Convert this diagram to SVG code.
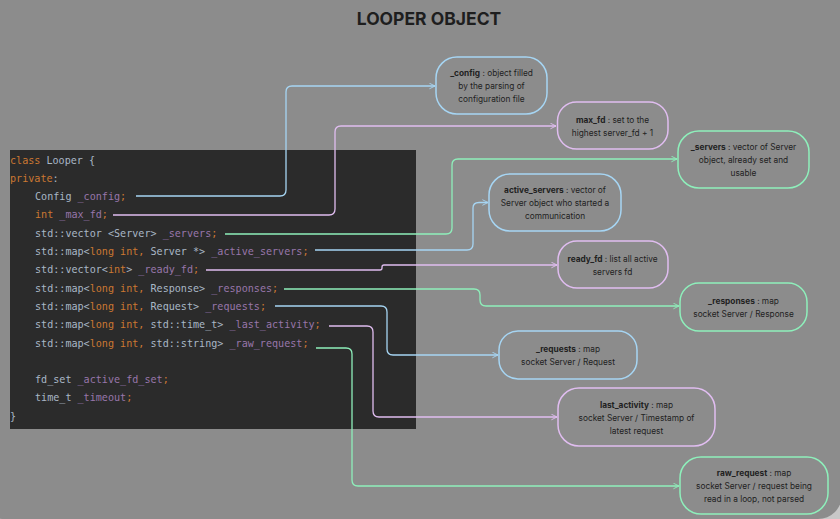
<svg xmlns="http://www.w3.org/2000/svg" width="840" height="519" viewBox="0 0 840 519">
<style>
.code{font-family:"DejaVu Sans Mono","Liberation Mono",monospace;font-size:10.1px;fill:#a9b7c6;white-space:pre}
.k{fill:#cc7832}
.f{fill:#9876aa}
.node{fill:none;stroke-width:1.5}
.nt{font-family:Inter,"Noto Sans",sans-serif;font-size:8.3px;fill:#222;text-anchor:middle}
.nt .b{font-weight:700}
.c{fill:none;stroke-width:1.3;stroke-linejoin:round}
.blue{stroke:#a6d5f3}
.pink{stroke:#e0bdf0}
.green{stroke:#8eefbb}
</style>
<defs>
<marker id="ab" viewBox="0 0 10 10" refX="9" refY="5" markerWidth="7" markerHeight="7" markerUnits="userSpaceOnUse" orient="auto"><path d="M1,1 L9,5 L1,9" fill="none" stroke="#a6d5f3" stroke-width="1.3"/></marker>
<marker id="ap" viewBox="0 0 10 10" refX="9" refY="5" markerWidth="7" markerHeight="7" markerUnits="userSpaceOnUse" orient="auto"><path d="M1,1 L9,5 L1,9" fill="none" stroke="#e0bdf0" stroke-width="1.3"/></marker>
<marker id="ag" viewBox="0 0 10 10" refX="9" refY="5" markerWidth="7" markerHeight="7" markerUnits="userSpaceOnUse" orient="auto"><path d="M1,1 L9,5 L1,9" fill="none" stroke="#8eefbb" stroke-width="1.3"/></marker>
</defs>
<rect x="0" y="0" width="840" height="519" fill="#c8c8c8"/>
<rect x="-20" y="-20" width="862" height="539" rx="24" fill="#8c8c8c"/>
<text x="429" y="24.5" text-anchor="middle" font-family="Inter,'Noto Sans',sans-serif" font-size="17.5" font-weight="700" fill="#1e1e1e">LOOPER OBJECT</text>

<g id="code">
<rect x="10" y="150" width="406" height="279" fill="#2b2b2b"/>
<text class="code" x="10" y="163.5"><tspan class="k">class</tspan> Looper {</text>
<text class="code" x="10" y="181.8"><tspan class="k">private</tspan>:</text>
<text class="code" x="35" y="200.1">Config <tspan class="f">_config</tspan><tspan class="k">;</tspan></text>
<text class="code" x="35" y="218.4"><tspan class="k">int</tspan> <tspan class="f">_max_fd</tspan><tspan class="k">;</tspan></text>
<text class="code" x="35" y="236.7">std::vector &lt;Server&gt; <tspan class="f">_servers</tspan><tspan class="k">;</tspan></text>
<text class="code" x="35" y="255">std::map&lt;<tspan class="k">long int,</tspan> Server *&gt; <tspan class="f">_active_servers</tspan><tspan class="k">;</tspan></text>
<text class="code" x="35" y="273.3">std::vector&lt;<tspan class="k">int</tspan>&gt; <tspan class="f">_ready_fd</tspan><tspan class="k">;</tspan></text>
<text class="code" x="35" y="291.6">std::map&lt;<tspan class="k">long int,</tspan> Response&gt; <tspan class="f">_responses</tspan><tspan class="k">;</tspan></text>
<text class="code" x="35" y="309.9">std::map&lt;<tspan class="k">long int,</tspan> Request&gt; <tspan class="f">_requests</tspan><tspan class="k">;</tspan></text>
<text class="code" x="35" y="328.2">std::map&lt;<tspan class="k">long int,</tspan> std::time_t&gt; <tspan class="f">_last_activity</tspan><tspan class="k">;</tspan></text>
<text class="code" x="35" y="346.5">std::map&lt;<tspan class="k">long int,</tspan> std::string&gt; <tspan class="f">_raw_request</tspan><tspan class="k">;</tspan></text>
<text class="code" x="35" y="383.1">fd_set <tspan class="f">_active_fd_set</tspan><tspan class="k">;</tspan></text>
<text class="code" x="35" y="401.4">time_t <tspan class="f">_timeout</tspan><tspan class="k">;</tspan></text>
<text class="code" x="10" y="419.7">}</text>
</g>

<g id="connectors">
<path class="c blue" d="M136,196 H280 Q286,196 286,190 V92 Q286,86 292,86 H435" marker-end="url(#ab)"/>
<path class="c pink" d="M113,215 H329 Q335,215 335,209 V132 Q335,126 341,126 H556" marker-end="url(#ap)"/>
<path class="c green" d="M225,234 H446 Q452,234 452,228 V165 Q452,159 458,159 H677" marker-end="url(#ag)"/>
<path class="c blue" d="M315,250 H467 Q473,250 473,244 V208 Q473,202.5 479,202.5 H488" marker-end="url(#ab)"/>
<path class="c pink" d="M206,270 H380 Q382,270 382,268 V267 Q382,265 384,265 H557" marker-end="url(#ap)"/>
<path class="c green" d="M284,289 H474 Q480,289 480,295 V300 Q480,306 486,306 H679" marker-end="url(#ag)"/>
<path class="c blue" d="M275,306 H381 Q387,306 387,312 V349 Q387,355 393,355 H498" marker-end="url(#ab)"/>
<path class="c pink" d="M329,326 H367 Q373,326 373,332 V411 Q373,417 379,417 H557" marker-end="url(#ap)"/>
<path class="c green" d="M316,348 H346 Q352,348 352,354 V480 Q352,486 358,486 H679" marker-end="url(#ag)"/>
</g>

<g id="config">
<rect class="node blue" x="436" y="57" width="111" height="57" rx="21"/>
<text class="nt" x="491.5" y="76"><tspan class="b">_config</tspan> : object filled</text>
<text class="nt" x="491.5" y="89">by the parsing of</text>
<text class="nt" x="491.5" y="102">configuration file</text>
</g>
<g id="max_fd">
<rect class="node pink" x="557.5" y="102" width="110.5" height="47" rx="19"/>
<text class="nt" x="612.5" y="123"><tspan class="b">max_fd</tspan> : set to the</text>
<text class="nt" x="612.5" y="135.5">highest server_fd + 1</text>
</g>
<g id="servers">
<rect class="node green" x="678" y="131" width="131" height="57" rx="21"/>
<text class="nt" x="743.5" y="149.5"><tspan class="b">_servers</tspan> : vector of Server</text>
<text class="nt" x="743.5" y="162.5">object, already set and</text>
<text class="nt" x="743.5" y="175.5">usable</text>
</g>
<g id="active_servers">
<rect class="node blue" x="489" y="174" width="132" height="57" rx="21"/>
<text class="nt" x="555" y="193"><tspan class="b">active_servers</tspan> : vector of</text>
<text class="nt" x="555" y="206">Server object who started a</text>
<text class="nt" x="555" y="219">communication</text>
</g>
<g id="ready_fd">
<rect class="node pink" x="558" y="241" width="110" height="47" rx="19"/>
<text class="nt" x="612.5" y="262"><tspan class="b">ready_fd</tspan> : list all active</text>
<text class="nt" x="612.5" y="274.5">servers fd</text>
</g>
<g id="responses">
<rect class="node green" x="680" y="283" width="127" height="48" rx="19"/>
<text class="nt" x="743.5" y="304"><tspan class="b">_responses</tspan> : map</text>
<text class="nt" x="743.5" y="316.5">socket Server / Response</text>
</g>
<g id="requests">
<rect class="node blue" x="499" y="331" width="138" height="48" rx="19"/>
<text class="nt" x="568" y="352"><tspan class="b">_requests</tspan> : map</text>
<text class="nt" x="568" y="364.5">socket Server / Request</text>
</g>
<g id="last_activity">
<rect class="node pink" x="558" y="388" width="157" height="58" rx="21"/>
<text class="nt" x="636.5" y="408"><tspan class="b">last_activity</tspan> : map</text>
<text class="nt" x="636.5" y="421">socket Server / Timestamp of</text>
<text class="nt" x="636.5" y="434">latest request</text>
</g>
<g id="raw_request">
<rect class="node green" x="680" y="457" width="148" height="57" rx="21"/>
<text class="nt" x="754" y="475.5"><tspan class="b">raw_request</tspan> : map</text>
<text class="nt" x="754" y="488.5">socket Server / request being</text>
<text class="nt" x="754" y="501.5">read in a loop, not parsed</text>
</g>
</svg>
